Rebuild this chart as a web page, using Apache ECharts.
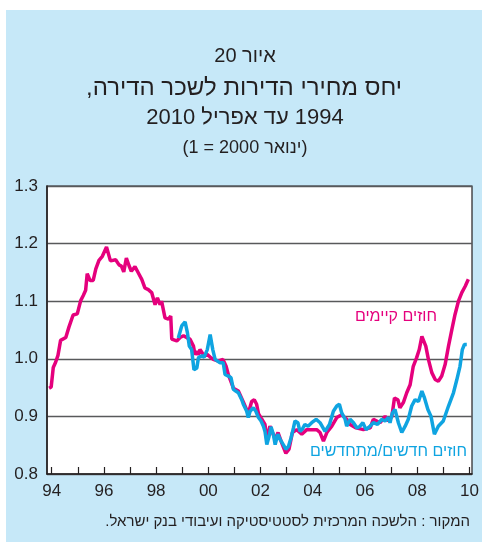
<!DOCTYPE html>
<html>
<head>
  <meta charset="utf-8">
</head>
<body style="margin: 0; background: #fff">
  <div id="container" style="width: 482px; height: 542px; direction: rtl"></div>
  <script type="text/javascript" src="https://cdn.jsdelivr.net/npm/echarts@6/dist/echarts.min.js"></script>
  <script type="text/javascript">
    // existing contracts (pink)
    var pinkYears = [1993.90, 1993.98, 1994.06, 1994.15, 1994.24, 1994.34, 1994.54, 1994.66, 1994.82, 1994.98,
      1995.11, 1995.21, 1995.30, 1995.36, 1995.47, 1995.59, 1995.69, 1995.81, 1995.94, 1996.00,
      1996.10, 1996.16, 1996.25, 1996.32, 1996.45, 1996.58, 1996.67, 1996.76, 1996.86, 1996.96,
      1997.05, 1997.19, 1997.32, 1997.45, 1997.57, 1997.70, 1997.83, 1997.96, 1998.05, 1998.15,
      1998.21, 1998.34, 1998.47, 1998.56, 1998.60, 1998.79, 1998.92, 1999.05, 1999.20, 1999.30,
      1999.43, 1999.49, 1999.56, 1999.62, 1999.68, 1999.75, 1999.84, 1999.95, 2000.07, 2000.19,
      2000.38, 2000.56, 2000.68, 2000.77, 2000.96, 2001.15, 2001.34, 2001.53, 2001.66, 2001.76,
      2001.85, 2001.92, 2002.05, 2002.17, 2002.24, 2002.36, 2002.56, 2002.67, 2002.81, 2002.97,
      2003.09, 2003.22, 2003.39, 2003.58, 2003.77, 2003.96, 2004.15, 2004.28, 2004.41, 2004.54,
      2004.73, 2004.92, 2005.11, 2005.30, 2005.43, 2005.66, 2005.94, 2006.20, 2006.32, 2006.58,
      2006.77, 2006.90, 2007.03, 2007.13, 2007.26, 2007.34, 2007.47, 2007.60, 2007.73, 2007.85,
      2007.98, 2008.08, 2008.18, 2008.24, 2008.33, 2008.43, 2008.56, 2008.69, 2008.81, 2008.94,
      2009.07, 2009.20, 2009.33, 2009.45, 2009.58, 2009.71, 2009.84, 2009.96];
    var pinkValues = [0.949, 0.951, 0.985, 0.994, 1.006, 1.032, 1.037, 1.055, 1.076, 1.078,
      1.101, 1.110, 1.119, 1.148, 1.136, 1.136, 1.156, 1.171, 1.178, 1.178,
      1.194, 1.192, 1.170, 1.172, 1.172, 1.163, 1.161, 1.151, 1.175, 1.162,
      1.152, 1.160, 1.149, 1.138, 1.123, 1.120, 1.115, 1.094, 1.106, 1.094,
      1.100, 1.071, 1.069, 1.074, 1.034, 1.031, 1.037, 1.040, 1.036, 1.034,
      1.022, 1.007, 1.013, 1.007, 1.016, 1.013, 1.005, 1.008, 1.003, 0.999,
      0.996, 0.999, 0.987, 0.972, 0.949, 0.944, 0.925, 0.905, 0.926, 0.929,
      0.921, 0.905, 0.895, 0.886, 0.860, 0.883, 0.860, 0.872, 0.854, 0.836,
      0.843, 0.872, 0.877, 0.869, 0.877, 0.877, 0.877, 0.872, 0.857, 0.872,
      0.883, 0.898, 0.903, 0.895, 0.886, 0.880, 0.877, 0.880, 0.895, 0.889,
      0.900, 0.892, 0.900, 0.932, 0.929, 0.915, 0.924, 0.941, 0.955, 0.987,
      1.002, 1.016, 1.039, 1.042, 1.022, 0.999, 0.976, 0.964, 0.961, 0.970,
      0.990, 1.022, 1.051, 1.077, 1.100, 1.115, 1.126, 1.138];

    // new / renewed contracts (blue)
    var blueYears = [1998.85, 1998.98, 1999.11, 1999.20, 1999.27, 1999.36, 1999.45, 1999.56, 1999.62, 1999.75,
      1999.84, 1999.96, 2000.07, 2000.17, 2000.26, 2000.45, 2000.57, 2000.64, 2000.77, 2000.87,
      2000.96, 2001.05, 2001.15, 2001.28, 2001.34, 2001.47, 2001.53, 2001.60, 2001.72, 2001.82,
      2001.92, 2002.02, 2002.11, 2002.17, 2002.24, 2002.33, 2002.40, 2002.49, 2002.56, 2002.66,
      2002.75, 2002.87, 2002.97, 2003.07, 2003.17, 2003.26, 2003.32, 2003.43, 2003.51, 2003.60,
      2003.70, 2003.82, 2003.96, 2004.13, 2004.28, 2004.47, 2004.64, 2004.79, 2004.92, 2005.02,
      2005.11, 2005.24, 2005.30, 2005.43, 2005.56, 2005.69, 2005.81, 2005.92, 2006.04, 2006.20,
      2006.32, 2006.48, 2006.64, 2006.77, 2006.90, 2006.96, 2007.05, 2007.15, 2007.28, 2007.41,
      2007.54, 2007.66, 2007.79, 2007.92, 2008.05, 2008.18, 2008.28, 2008.41, 2008.53, 2008.66,
      2008.81, 2009.00, 2009.20, 2009.39, 2009.52, 2009.64, 2009.73, 2009.81, 2009.90];
    var blueValues = [1.036, 1.057, 1.064, 1.045, 1.022, 1.016, 0.981, 0.984, 1.002, 1.005,
      1.003, 1.016, 1.042, 1.016, 0.999, 0.993, 0.993, 0.973, 0.970, 0.967,
      0.947, 0.944, 0.941, 0.929, 0.921, 0.909, 0.898, 0.909, 0.915, 0.909,
      0.898, 0.892, 0.883, 0.874, 0.851, 0.866, 0.882, 0.869, 0.851, 0.869,
      0.860, 0.851, 0.843, 0.848, 0.863, 0.880, 0.892, 0.889, 0.874, 0.878,
      0.886, 0.883, 0.889, 0.895, 0.889, 0.874, 0.886, 0.909, 0.918, 0.921,
      0.906, 0.895, 0.883, 0.895, 0.889, 0.880, 0.883, 0.889, 0.877, 0.883,
      0.889, 0.886, 0.895, 0.892, 0.898, 0.889, 0.906, 0.912, 0.889, 0.872,
      0.883, 0.895, 0.918, 0.929, 0.926, 0.944, 0.932, 0.912, 0.900, 0.869,
      0.883, 0.892, 0.918, 0.941, 0.964, 0.987, 1.016, 1.025, 1.025];

    var tickYears = [1994, 1995, 1996, 1997, 1998, 1999, 2000, 2001, 2002, 2003, 2004, 2005, 2006, 2007, 2008, 2009, 2010];
    var labelYears = [1994, 1996, 1998, 2000, 2002, 2004, 2006, 2008, 2010];

    var titleLines = ['איור 20', 'יחס מחירי הדירות לשכר הדירה,', '1994 עד אפריל 2010', '(ינואר 2000 = 1)'];
    var pinkName = 'חוזים קיימים';
    var blueName = 'חוזים חדשים/מתחדשים';
    var sourceText = 'המקור : הלשכה המרכזית לסטטיסטיקה ועיבודי בנק ישראל.';

    function pairs(xs, ys) {
      return xs.map(function (x, i) { return [x, ys[i]]; });
    }

    var font = "'Liberation Sans', 'DejaVu Sans', sans-serif";
    var ink = '#231f20';

    var dom = document.getElementById('container');
    var myChart = echarts.init(dom);

    var option = {
      backgroundColor: '#c6e8f8',
      animation: false,
      textStyle: { fontFamily: font },
      grid: {
        left: 47, right: 10, top: 186, bottom: 68,
        show: true,
        backgroundColor: '#ffffff',
        borderColor: ink,
        borderWidth: 1.2
      },
      xAxis: {
        type: 'value',
        min: 1993.82,
        max: 2010.10,
        axisLine: { show: true, lineStyle: { color: ink, width: 1.5 } },
        axisTick: {
          show: true, inside: true, length: 7,
          customValues: tickYears,
          lineStyle: { color: ink, width: 1.2 }
        },
        axisLabel: {
          customValues: labelYears,
          formatter: function (v) { return String(Math.round(v)).slice(2); },
          fontSize: 17, color: ink, margin: 9, fontFamily: font
        },
        splitLine: { show: false }
      },
      yAxis: {
        type: 'value',
        min: 0.8,
        max: 1.3,
        interval: 0.1,
        axisLine: { show: true, lineStyle: { color: ink, width: 1.5 } },
        axisTick: { show: false },
        axisLabel: {
          formatter: function (v) { return v.toFixed(1); },
          fontSize: 17, color: ink, margin: 9, fontFamily: font
        },
        splitLine: { show: true, lineStyle: { color: '#58595b', width: 1.3 } }
      },
      series: [
        {
          name: pinkName, type: 'line', showSymbol: false,
          data: pairs(pinkYears, pinkValues),
          lineStyle: { color: '#e5007d', width: 3.5 },
          itemStyle: { color: '#e5007d' }
        },
        {
          name: blueName, type: 'line', showSymbol: false,
          data: pairs(blueYears, blueValues),
          lineStyle: { color: '#0fa4e1', width: 3.5 },
          itemStyle: { color: '#0fa4e1' }
        }
      ],
      graphic: [
        { type: 'rect', shape: { x: 0, y: 0, width: 482, height: 10 }, style: { fill: '#fff' }, silent: true },
        { type: 'rect', shape: { x: 0, y: 0, width: 6, height: 542 }, style: { fill: '#fff' }, silent: true },
        { type: 'text', x: 245, y: 56, style: { text: titleLines[0], fill: ink, font: '20px ' + font, textAlign: 'center', textVerticalAlign: 'middle' } },
        { type: 'text', x: 244, y: 88, style: { text: titleLines[1], fill: ink, font: '24px ' + font, textAlign: 'center', textVerticalAlign: 'middle' } },
        { type: 'text', x: 245, y: 118, style: { text: titleLines[2], fill: ink, font: '22px ' + font, textAlign: 'center', textVerticalAlign: 'middle' } },
        { type: 'text', x: 245, y: 148, style: { text: titleLines[3], fill: ink, font: '18px ' + font, textAlign: 'center', textVerticalAlign: 'middle' } },
        { type: 'text', x: 437, y: 317, z: 10, style: { text: pinkName, fill: '#e5007d', font: '16px ' + font, textAlign: 'right', textVerticalAlign: 'middle' } },
        { type: 'text', x: 467, y: 452, z: 10, style: { text: blueName, fill: '#0fa4e1', font: '16px ' + font, textAlign: 'right', textVerticalAlign: 'middle' } },
        { type: 'text', x: 470, y: 522, style: { text: sourceText, fill: ink, font: '15px ' + font, textAlign: 'right', textVerticalAlign: 'middle' } }
      ]
    };

    myChart.setOption(option);
  </script>
</body>
</html>
